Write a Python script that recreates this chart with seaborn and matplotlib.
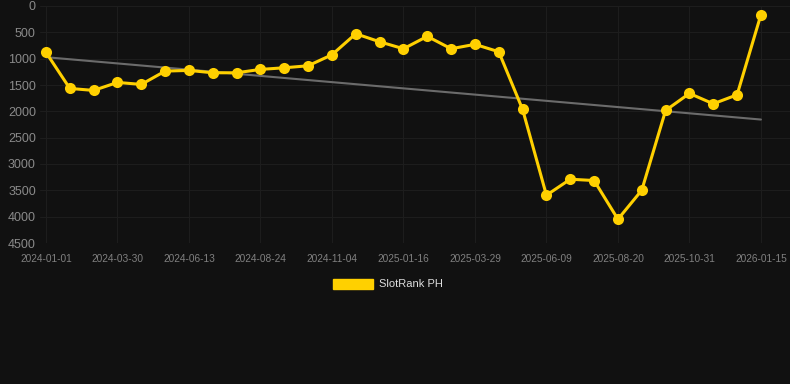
import seaborn as sns
import matplotlib.pyplot as plt
import numpy as np
import pandas as pd
from matplotlib.patches import Patch

# rank values (lower is better, axis inverted)
ranks = [880, 1565, 1603, 1451, 1489, 1236, 1223, 1268, 1268, 1204,
         1173, 1135, 926, 527, 679, 812, 576, 812, 728, 869,
         1964, 3593, 3289, 3314, 4049, 3498, 1983, 1660, 1857, 1686, 165]
tick_labels = ['2024-01-01', '2024-03-30', '2024-06-13', '2024-08-24', '2024-11-04',
               '2025-01-16', '2025-03-29', '2025-06-09', '2025-08-20', '2025-10-31',
               '2026-01-15']
series_name = 'SlotRank PH'
y_ticks = [0, 500, 1000, 1500, 2000, 2500, 3000, 3500, 4000, 4500]

bg = '#111111'
gold = '#FFD000'
grid_c = '#1d1d1d'

sns.set_theme(style='dark', rc={
    'axes.facecolor': bg,
    'figure.facecolor': bg,
    'grid.color': grid_c,
    'axes.edgecolor': bg,
})
plt.rcParams['font.family'] = ['Liberation Sans', 'DejaVu Sans']

df = pd.DataFrame({'idx': np.arange(len(ranks)), 'rank': ranks})

fig = plt.figure(figsize=(7.9, 3.84), dpi=100)
ax = fig.add_axes([40 / 790, 1 - 243 / 384, 750 / 790, 237 / 384])

# trend line (linear fit)
coef = np.polyfit(df['idx'], df['rank'], 1)
xs = np.array([df['idx'].min(), df['idx'].max()])
ax.plot(xs, np.polyval(coef, xs), color='#6b6b6b', lw=1.5, zorder=2)

sns.lineplot(data=df, x='idx', y='rank', ax=ax, color=gold, lw=2.2,
             marker='o', markersize=8, markeredgewidth=0, zorder=3)

ax.set_xlim(-0.25, 31.22)
ax.set_ylim(4500, 0)
ax.set_yticks(y_ticks)
ax.set_yticklabels([str(v) for v in y_ticks])
ax.set_xticks(df['idx'][::3])
ax.set_xticklabels(tick_labels)
ax.grid(True, color=grid_c, lw=0.8)
ax.tick_params(axis='y', colors='#8a8a8a', labelsize=9, length=0, pad=3)
ax.tick_params(axis='x', colors='#808080', labelsize=7.3, length=0, pad=8)
ax.set_xlabel('')
ax.set_ylabel('')
for s in ax.spines.values():
    s.set_visible(False)

handle = Patch(facecolor=gold, edgecolor=gold)
leg = fig.legend([handle], [series_name], loc='center',
                 bbox_to_anchor=(388 / 790, 1 - 284 / 384), frameon=False,
                 handlelength=3.6, handleheight=1.0, handletextpad=0.6,
                 fontsize=8)
for t in leg.get_texts():
    t.set_color('#dddddd')

fig.savefig('out.png', dpi=100, facecolor=bg)
